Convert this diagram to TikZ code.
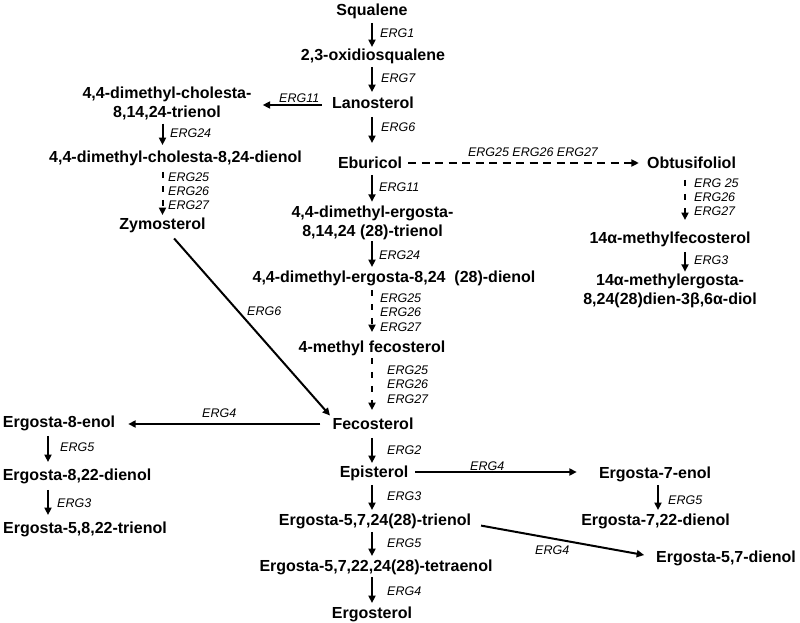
\documentclass[tikz,border=0pt]{standalone}
\usepackage{fontspec}
\setmainfont{Liberation Sans}
\usetikzlibrary{arrows.meta,calc}

\newcommand{\cpdfont}{\fontsize{16}{19}\selectfont\bfseries}
\newcommand{\genfont}{\fontsize{12.5}{14}\selectfont\itshape}

\begin{document}
\begin{tikzpicture}[x=1pt,y=-1pt,>={Triangle[length=7.5pt,width=7pt]},
  cpd/.style={font=\cpdfont,inner sep=1pt,text height=11.5pt,text depth=0pt},
  cpdtwo/.style={font=\cpdfont,inner sep=1pt,align=center,anchor=north},
  gene/.style={font=\genfont,inner sep=0pt,anchor=west},
  rx/.style={line width=2pt,->},
  dx/.style={rx,dash pattern=on 6pt off 8pt}]
  \useasboundingbox[fill=white] (0,0) rectangle (800,623);
  % main chain
  \node[cpd] (sq) at (372,10) {Squalene};
  \node[cpd] (ox) at (373,55) {2,3-oxidiosqualene};
  \node[cpd] (lano) at (373,103) {Lanosterol};
  \node[cpd] (ebur) at (370,163) {Eburicol};
  \node[cpdtwo] (dmtri) at (372.5,204.75) {4,4-dimethyl-ergosta-\\8,14,24 (28)-trienol};
  \node[cpd] (dmdi) at (394,277) {4,4-dimethyl-ergosta-8,24\ \ (28)-dienol};
  \node[cpd] (mfec) at (372,347) {4-methyl fecosterol};
  \node[cpd] (feco) at (373,424) {Fecosterol};
  \node[cpd] (epi) at (374,472) {Episterol};
  \node[cpd] (tri) at (375,520) {Ergosta-5,7,24(28)-trienol};
  \node[cpd] (tetra) at (376,566) {Ergosta-5,7,22,24(28)-tetraenol};
  \node[cpd] (ergo) at (372,613) {Ergosterol};
  % zymosterol branch
  \node[cpdtwo] (chtri) at (167,85.25) {4,4-dimethyl-cholesta-\\8,14,24-trienol};
  \node[cpd] (chdi) at (175.5,157) {4,4-dimethyl-cholesta-8,24-dienol};
  \node[cpd] (zymo) at (162.5,224) {Zymosterol};
  % obtusifoliol branch
  \node[cpd] (obt) at (691.5,163) {Obtusifoliol};
  \node[cpd] (mf14) at (670,238) {14α-methylfecosterol};
  \node[cpdtwo] (me14) at (670,272.75) {14α-methylergosta-\\8,24(28)dien-3β,6α-diol};
  % side products
  \node[cpd] (e8) at (59,422) {Ergosta-8-enol};
  \node[cpd] (e822) at (77,475) {Ergosta-8,22-dienol};
  \node[cpd] (e5822) at (85,528) {Ergosta-5,8,22-trienol};
  \node[cpd] (e7) at (655,473) {Ergosta-7-enol};
  \node[cpd] (e722) at (655.5,520) {Ergosta-7,22-dienol};
  \node[cpd] (e57) at (726,557) {Ergosta-5,7-dienol};

  % main chain arrows
  \draw[rx,shorten <=6pt,shorten >=1pt] (sq.south) -- (sq.south |- ox.north);
  \draw[rx,shorten <=5pt,shorten >=4pt] (ox.south -| sq) -- (lano.north -| sq);
  \draw[rx,shorten <=7pt,shorten >=13pt] (lano.south -| sq) -- (ebur.north -| sq);
  \draw[rx,shorten <=5pt,shorten >=3pt] (ebur.south -| sq) -- (dmtri.north -| sq);
  \draw[rx,shorten >=3pt] (dmtri.south -| sq) -- (dmdi.north -| sq);
  \draw[dx,shorten <=6pt,shorten >=8pt] (dmdi.south -| sq) -- (mfec.north -| sq);
  \draw[dx,shorten <=4pt,shorten >=7pt] (mfec.south -| sq) -- (feco.north -| sq);
  \draw[rx,shorten <=7pt,shorten >=2pt] (feco.south -| sq) -- (epi.north -| sq);
  \draw[rx,shorten <=6pt,shorten >=3pt] (epi.south -| sq) -- (tri.north -| sq);
  \draw[rx,shorten <=5pt,shorten >=3pt] (tri.south -| sq) -- (tetra.north -| sq);
  \draw[rx,shorten <=4pt,shorten >=3pt] (tetra.south -| sq) -- (ergo.north -| sq);
  \node[gene] (g1) at (380,33) {ERG1};
  \node[gene] (g7) at (381,78) {ERG7};
  \node[gene] (g6) at (381,127) {ERG6};
  \node[gene] (g11) at (379,187) {ERG11};
  \node[gene] (g24) at (379,255) {ERG24};
  \foreach \y/\g in {298/ERG25,312.5/ERG26,327/ERG27} \node[gene] (ga\g) at (380,\y) {\g};
  \foreach \y/\g in {370/ERG25,384.5/ERG26,399/ERG27} \node[gene] (gb\g) at (387,\y) {\g};
  \node[gene] (g2) at (387,450) {ERG2};
  \node[gene] (g3) at (387,496) {ERG3};
  \node[gene] (g5) at (387,543) {ERG5};
  \node[gene] (g4) at (387,591) {ERG4};

  % zymosterol branch arrows
  \draw[rx,shorten <=9pt,shorten >=10pt] ([yshift=-2pt]lano.west) -- ([yshift=-2pt]lano.west -| chtri.east);
  \draw[rx,shorten <=3pt,shorten >=5pt] (chtri.south -| zymo) -- (chdi.north -| zymo);
  \draw[dx,shorten <=8pt,shorten >=2pt] (chdi.south -| zymo) -- (zymo.north);
  \draw[rx,shorten <=10pt,shorten >=2pt] ([xshift=5pt]zymo.south) -- (feco.north west);
  \node[gene] (gz11) at (279,98) {ERG11};
  \node[gene] (gz24) at (170,133) {ERG24};
  \foreach \y/\g in {177/ERG25,191/ERG26,205/ERG27} \node[gene] (gc\g) at (168,\y) {\g};
  \node[gene] (gz6) at (247,311) {ERG6};

  % obtusifoliol branch arrows
  \draw[rx,dash pattern=on 8pt off 5.5pt,shorten <=5pt,shorten >=7pt] (ebur.east) -- (obt.west);
  \draw[dx,shorten <=10pt,shorten >=11pt] ([xshift=-6.5pt]obt.south) -- ([xshift=-6.5pt]obt.south |- mf14.north);
  \draw[rx,shorten <=7pt,shorten >=1pt] ([xshift=-6.5pt]obt.south |- mf14.south) -- ([xshift=-6.5pt]obt.south |- me14.north);
  \node[gene,anchor=center] (go) at (533,152) {ERG25 ERG26 ERG27};
  \foreach \y/\g in {183/ERG 25,197/ERG26,211/ERG27} \node[gene] (gd\y) at (694,\y) {\g};
  \node[gene] (go3) at (694,260) {ERG3};

  % side product arrows
  \draw[rx,shorten <=11pt,shorten >=12pt] (feco.west) -- (feco.west -| e8.east);
  \draw[rx,shorten <=7pt,shorten >=6pt] ([xshift=-11pt]e8.south) -- ([xshift=-11pt]e8.south |- e822.north);
  \draw[rx,shorten <=8pt,shorten >=6pt] ([xshift=-11pt]e8.south |- e822.south) -- ([xshift=-11pt]e8.south |- e5822.north);
  \draw[rx,shorten <=6pt,shorten >=21pt] (epi.east) -- (epi.east -| e7.west);
  \draw[rx,shorten <=5pt,shorten >=3pt] ([xshift=3pt]e7.south) -- ([xshift=3pt]e7.south |- e722.north);
  \draw[rx,shorten <=9pt,shorten >=11pt] ([yshift=-4pt]tri.east) -- (e57.west);
  \node[gene] (gs4) at (202,413) {ERG4};
  \node[gene] (gs5) at (60,447) {ERG5};
  \node[gene] (gs3) at (57,503) {ERG3};
  \node[gene] (ge4) at (470,466) {ERG4};
  \node[gene] (ge5) at (668,500) {ERG5};
  \node[gene] (gt4) at (535,550) {ERG4};
\end{tikzpicture}
\end{document}
